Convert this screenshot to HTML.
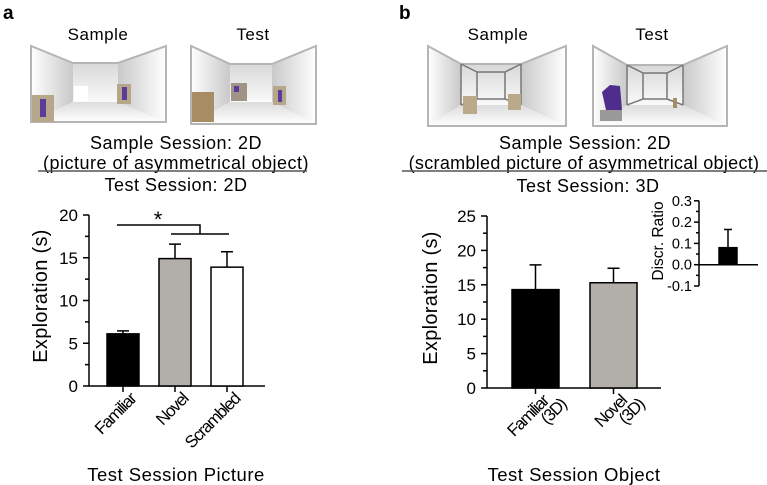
<!DOCTYPE html>
<html><head><meta charset="utf-8"><style>
body{margin:0;background:#fff}
svg{display:block;font-family:"Liberation Sans",Arial,sans-serif}
</style></head><body>
<svg id="fig" width="767" height="485" viewBox="0 0 767 485" xmlns="http://www.w3.org/2000/svg">
<defs>
<linearGradient id="lw" x1="0" x2="1"><stop offset="0" stop-color="#fff"/><stop offset="1" stop-color="#c9c9c9"/></linearGradient>
<linearGradient id="rw" x1="1" x2="0"><stop offset="0" stop-color="#fff"/><stop offset="1" stop-color="#c9c9c9"/></linearGradient>
<linearGradient id="bw" x1="0" x2="0" y1="0" y2="1"><stop offset="0" stop-color="#d8d8d8"/><stop offset="1" stop-color="#fafafa"/></linearGradient>
<linearGradient id="fl" x1="0" x2="0" y1="0" y2="1"><stop offset="0" stop-color="#dcdcdc"/><stop offset="1" stop-color="#fff"/></linearGradient>
</defs>
<text x="3" y="19" font-size="19" font-weight="bold">a</text>
<text x="399" y="19" font-size="19" font-weight="bold">b</text>
<g id="rooms"></g>
<g font-size="18" letter-spacing="0.5" text-anchor="middle">
<text x="98" y="40" font-size="17">Sample</text><text x="253" y="40" font-size="17">Test</text>
<text x="176" y="149">Sample Session: 2D</text>
<text x="176" y="169">(picture of asymmetrical object)</text>
<line x1="38" x2="307" y1="171" y2="171" stroke="#555" stroke-width="1.5"/>
<text x="176" y="191">Test Session: 2D</text>
</g>
<g font-size="18" letter-spacing="0.5" text-anchor="middle">
<text x="498" y="40" font-size="17">Sample</text><text x="652" y="40" font-size="17">Test</text>
<text x="585" y="149">Sample Session: 2D</text>
<text x="584" y="169" letter-spacing="0.3">(scrambled picture of asymmetrical object)</text>
<line x1="402" x2="767" y1="171" y2="171" stroke="#555" stroke-width="1.5"/>
<text x="588" y="192">Test Session: 3D</text>
</g>
<g id="chartA"></g>
<g id="chartB"></g>
<g id="chartC"></g>
</svg>
<script>
const NS="http://www.w3.org/2000/svg";
// Panel a data
const aCategories=["Familiar","Novel","Scrambled"];
const aValues=[6.1,14.9,13.9];
const aErrors=[0.35,1.7,1.8];
const aColors=["#000","#b2afab","#fff"];
const aTicks=[0,5,10,15,20];
// Panel b data
const bCategories=[["Familiar","(3D)"],["Novel","(3D)"]];
const bValues=[14.3,15.3];
const bErrors=[3.6,2.1];
const bColors=["#000","#b2afab"];
const bTicks=[0,5,10,15,20,25];
// Inset data
const cValues=[0.08];
const cErrors=[0.085];
const cTicks=[-0.1,0.0,0.1,0.2,0.3];
const cTickLabels=["-0.1","0.0","0.1","0.2","0.3"];

function el(p,t,a,txt){const e=document.createElementNS(NS,t);for(const k in a)e.setAttribute(k,a[k]);if(txt!==undefined)e.textContent=txt;p.appendChild(e);return e;}
const S={stroke:"#000","stroke-width":1.5};

// rooms
const R=document.getElementById('rooms');
function room(L,Rt,T,B,bl,br,bt,bb,inner){
  const g=el(R,'g',{});
  
  
  el(g,'polygon',{points:`${L},${T} ${bl},${bt} ${bl},${bb} ${L},${B}`,fill:"url(#lw)"});
  el(g,'polygon',{points:`${Rt},${T} ${br},${bt} ${br},${bb} ${Rt},${B}`,fill:"url(#rw)"});
  el(g,'rect',{x:bl,y:bt,width:br-bl,height:bb-bt,fill:"url(#bw)"});
  el(g,'polygon',{points:`${bl},${bb} ${br},${bb} ${Rt},${B} ${L},${B}`,fill:"url(#fl)"});
  el(g,'path',{d:`M${L},${B}V${T}L${bl},${bt}H${br}L${Rt},${T}V${B}Z`,fill:"none",stroke:"#b5b5b5","stroke-width":2});
  if(inner){const m=inner;
    el(g,'path',{d:`M${bl},${bt}V${bb}M${br},${bt}V${bb}M${bl+m},${bt+8}V${bb-6}H${br-m}V${bt+8}Z M${bl},${bt}L${bl+m},${bt+8}M${bl},${bb}L${bl+m},${bb-6}M${br},${bt}L${br-m},${bt+8}M${br},${bb}L${br-m},${bb-6}`,fill:"none",stroke:"#777","stroke-width":1.5});
  }
  return g;
}
room(31,166,46,122,73,118,63,102,0);
el(R,'rect',{x:32,y:95,width:22,height:27,fill:"#b6a68a"});el(R,'rect',{x:40,y:99,width:6,height:18,fill:"#5b3c99"});
el(R,'rect',{x:117,y:84,width:14,height:20,fill:"#b6a68a"});el(R,'rect',{x:122,y:87,width:5,height:13,fill:"#5b3c99"});
el(R,'rect',{x:74,y:86,width:14,height:15,fill:"#fff"});
room(191,316,46,124,230,272,64,102,0);
el(R,'rect',{x:192,y:92,width:22,height:30,fill:"#a88c64"});
el(R,'rect',{x:231,y:83,width:16,height:18,fill:"#9f9486"});el(R,'rect',{x:234,y:86,width:5,height:6,fill:"#5b3c99"});
el(R,'rect',{x:273,y:86,width:13,height:19,fill:"#b6a68a"});el(R,'rect',{x:278,y:90,width:4,height:12,fill:"#5b3c99"});
room(428,566,46,126,461,521,64,105,16);
el(R,'rect',{x:463,y:96,width:14,height:18,fill:"#bba98c"});el(R,'rect',{x:508,y:94,width:13,height:16,fill:"#bba98c"});
room(593,727,46,126,627,683,65,105,16);
el(R,'rect',{x:600,y:110,width:22,height:11,fill:"#999"});el(R,'path',{d:"M602,92 L610,85 L620,86 L622,110 L606,110Z",fill:"#4e2d8d"});
el(R,'rect',{x:673,y:98,width:4,height:10,fill:"#a88c64"});

function barChart(id,cats,vals,errs,cols,ticks,x0,x1,y0,yTop,vmax,barX,barW,minor){
  const g=document.getElementById(id);
  const y=v=>y0-(v/vmax)*(y0-yTop);
  const ax=el(g,'path',Object.assign({d:`M${x0},${yTop}V${y0}H${x1}`,fill:"none"},S));
  
  
  ticks.forEach(t=>{
    el(g,'line',Object.assign({x1:x0-6,x2:x0,y1:y(t),y2:y(t)},S));
    const tl=el(g,'text',{x:x0-11,y:y(t)+6,"font-size":17,"text-anchor":"end"},String(t));
    
    
  });
  for(let t=minor;t<vmax;t+=minor*2) el(g,'line',Object.assign({x1:x0-4,x2:x0,y1:y(t),y2:y(t)},S));
  vals.forEach((v,i)=>{
    const bx=barX(i);
    const eb=el(g,'path',Object.assign({d:`M${bx+barW/2},${y(v)}V${y(v+errs[i])}M${bx+barW/2-6},${y(v+errs[i])}h12`,fill:"none"},S));
    
    
    const b=el(g,'rect',Object.assign({x:bx,y:y(v),width:barW,height:y0-y(v),fill:cols[i]},S));
    
    
    const cx=bx+barW/2;
    el(g,'line',Object.assign({x1:cx,x2:cx,y1:y0,y2:y0+6},S));
    const lines=Array.isArray(cats[i])?cats[i]:[cats[i]];
    const t=el(g,'text',{transform:`translate(${cx+14},${y0+14}) rotate(-45)`,"font-size":17,"text-anchor":"end","letter-spacing":"-1.3"});
    
    
    lines.forEach((s,j)=>el(t,'tspan',{x:j*10,y:j*15},s));
  });
  return y;
}
barChart('chartA',aCategories,aValues,aErrors,aColors,aTicks,89,265,386,215,20,i=>107+i*52,32,2.5);
const gA=document.getElementById('chartA');
const sig=el(gA,'path',Object.assign({d:"M117,225H200V234M171,234H229",fill:"none"},S));


const st=el(gA,'text',{x:158,y:227,"font-size":22,"text-anchor":"middle"},"*");


const yla=el(gA,'text',{transform:"translate(47,296) rotate(-90)","font-size":20,"text-anchor":"middle","letter-spacing":"0.3"},"Exploration (s)");


const xla=el(gA,'text',{x:176,y:481,"font-size":18.5,"text-anchor":"middle","letter-spacing":"0.5"},"Test Session Picture");



barChart('chartB',bCategories,bValues,bErrors,bColors,bTicks,487,661,388,216,25,i=>512+i*78,47,2.5);
const gB=document.getElementById('chartB');
const ylb=el(gB,'text',{transform:"translate(437,298) rotate(-90)","font-size":20,"text-anchor":"middle","letter-spacing":"0.3"},"Exploration (s)");


const xlb=el(gB,'text',{x:574,y:481,"font-size":18.5,"text-anchor":"middle","letter-spacing":"0.5"},"Test Session Object");



// inset
const gC=document.getElementById('chartC');
const cx0=699,cy0=264.7,cpx=213;
const yc=v=>cy0-v*cpx;
const cax=el(gC,'path',Object.assign({d:`M${cx0},${yc(0.3)}V${yc(-0.1)}M${cx0},${cy0}H758`,fill:"none"},S));


cTicks.forEach((t,i)=>{
  el(gC,'line',Object.assign({x1:cx0-5,x2:cx0,y1:yc(t),y2:yc(t)},S));
  if(t<0.3) el(gC,'line',Object.assign({x1:cx0-3,x2:cx0,y1:yc(t+0.05),y2:yc(t+0.05)},S));
  const tl=el(gC,'text',{x:cx0-7,y:yc(t)+5,"font-size":14.5,"text-anchor":"end"},cTickLabels[i]);
  
  
});
cValues.forEach((v,i)=>{
  el(gC,'path',Object.assign({d:`M728,${yc(v)}V${yc(v+cErrors[i])}M724,${yc(v+cErrors[i])}h8`,fill:"none"},S));
  const b=el(gC,'rect',Object.assign({x:719,y:yc(v),width:18,height:cy0-yc(v),fill:"#000"},S));
  
  
});
const ylc=el(gC,'text',{transform:"translate(663,241) rotate(-90)","font-size":15.5,"text-anchor":"middle"},"Discr. Ratio");


</script>
</body></html>
